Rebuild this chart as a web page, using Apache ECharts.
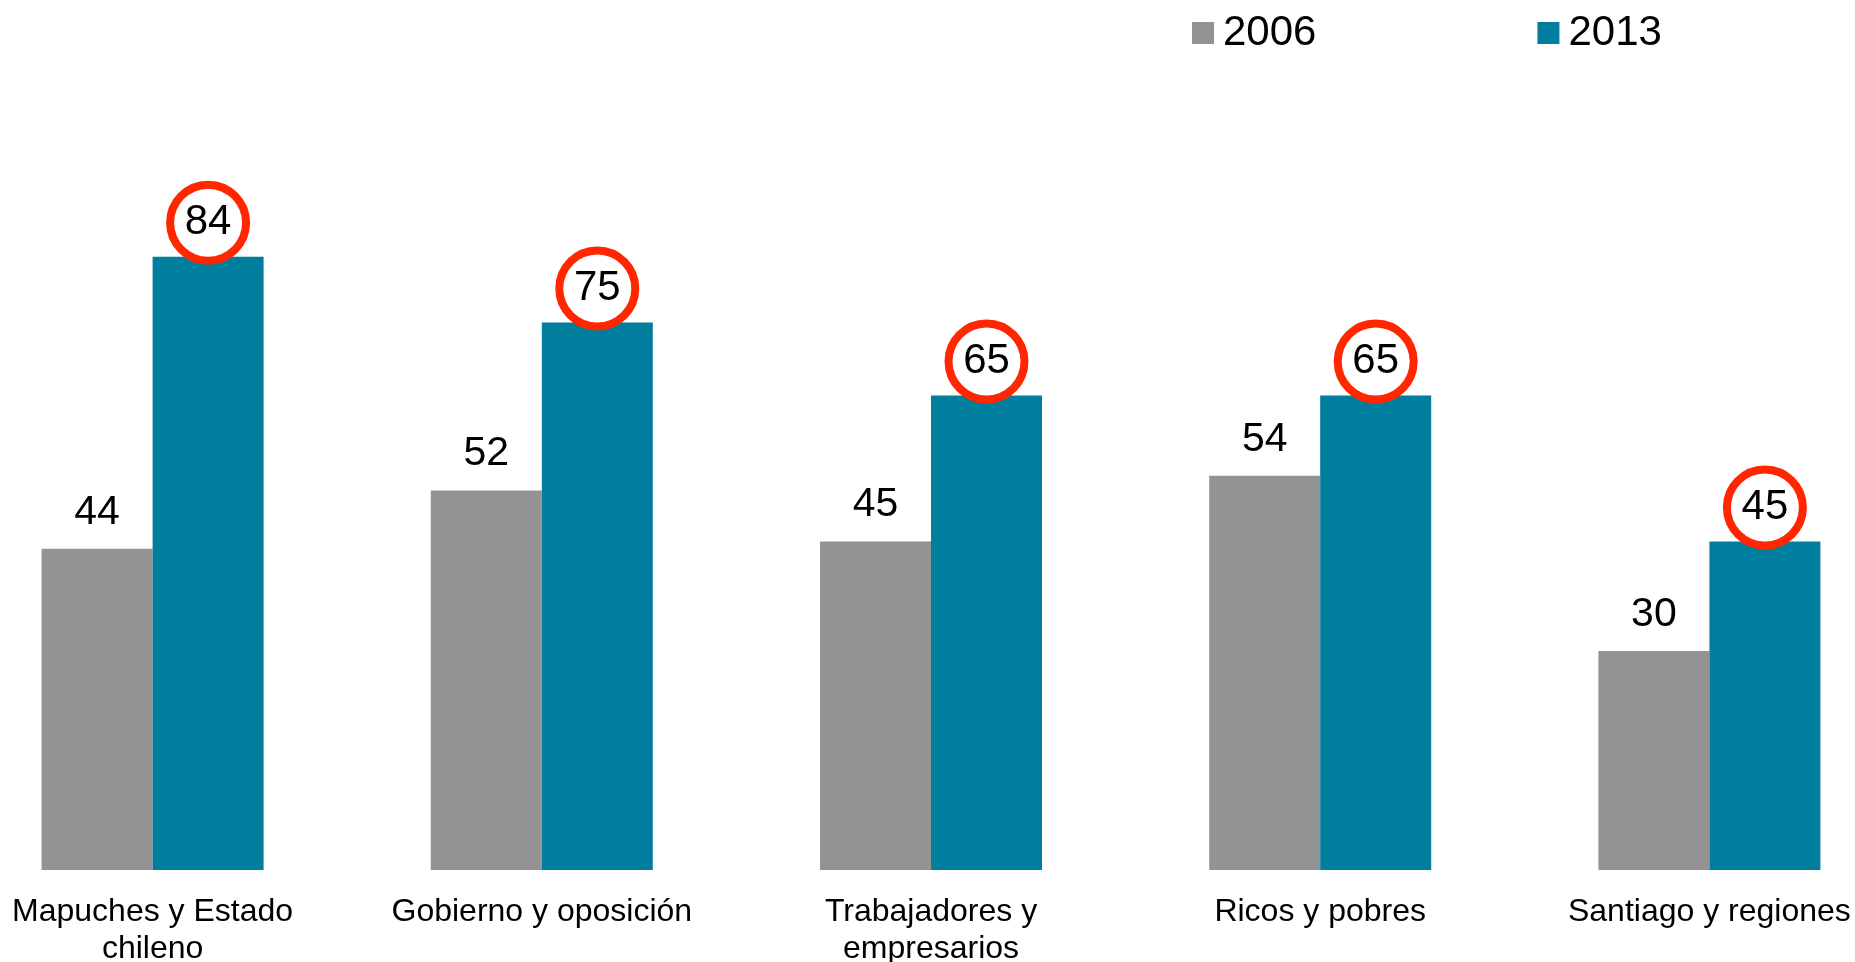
<!DOCTYPE html>
<html>
<head>
<meta charset="utf-8">
<title>2006 vs 2013</title>
<script src="https://cdn.jsdelivr.net/npm/echarts@6/dist/echarts.min.js"></script>
<style>
  html, body { margin: 0; padding: 0; background: #fff; }
  #chart { width: 1855px; height: 962px; }
</style>
</head>
<body>
<div id="chart"></div>
<script>
// data
const categories = [
  'Mapuches y Estado\nchileno',
  'Gobierno y oposición',
  'Trabajadores y\nempresarios',
  'Ricos y pobres',
  'Santiago y regiones',
]
const values2006 = [44, 52, 45, 54, 30]
const values2013 = [84, 75, 65, 65, 45]
const seriesNames = ['2006', '2013']

const FONT = '"Liberation Sans", Arial, sans-serif'
const GRAY = '#939393'
const TEAL = '#007e9d'
const RED = '#ff2600'

const chart = echarts.init(document.getElementById('chart'))

chart.setOption({
  animation: false,
  textStyle: { fontFamily: FONT },
  legend: {
    data: seriesNames,
    left: 1192,
    top: 12,
    padding: 0,
    itemWidth: 22,
    itemHeight: 22,
    itemGap: 221,
    icon: 'rect',
    textStyle: { fontFamily: FONT, fontSize: 42, color: '#000', padding: [0, 0, 0, 4] },
  },
  grid: {
    left: -42,
    right: -49,
    top: 140,
    bottom: 92,
    containLabel: false,
    outerBoundsMode: 'none',
  },
  xAxis: {
    type: 'category',
    data: categories,
    axisLine: { show: false },
    axisTick: { show: false },
    axisLabel: {
      interval: 0,
      margin: 24,
      color: '#000',
      fontFamily: FONT,
      fontSize: 32,
      lineHeight: 37,
    },
  },
  yAxis: {
    type: 'value',
    min: 0,
    max: 100,
    show: false,
    splitLine: { show: false },
  },
  series: [
    {
      name: seriesNames[0],
      type: 'bar',
      data: values2006,
      barWidth: 111,
      barGap: '0%',
      itemStyle: { color: GRAY },
      label: {
        show: true,
        position: 'top',
        distance: 16,
        color: '#000',
        fontFamily: FONT,
        fontSize: 41,
      },
    },
    {
      name: seriesNames[1],
      type: 'bar',
      data: values2013,
      barWidth: 111,
      barGap: '0%',
      itemStyle: { color: TEAL },
      z: 2,
      label: {
        show: true,
        position: 'top',
        distance: 0,
        color: '#000',
        fontFamily: FONT,
        fontSize: 42,
        width: 68,
        height: 68,
        lineHeight: 68,
        align: 'center',
        backgroundColor: '#fff',
        borderColor: RED,
        borderWidth: 8,
        borderRadius: 34,
        padding: 0,
      },
    },
  ],
})
</script>
</body>
</html>
